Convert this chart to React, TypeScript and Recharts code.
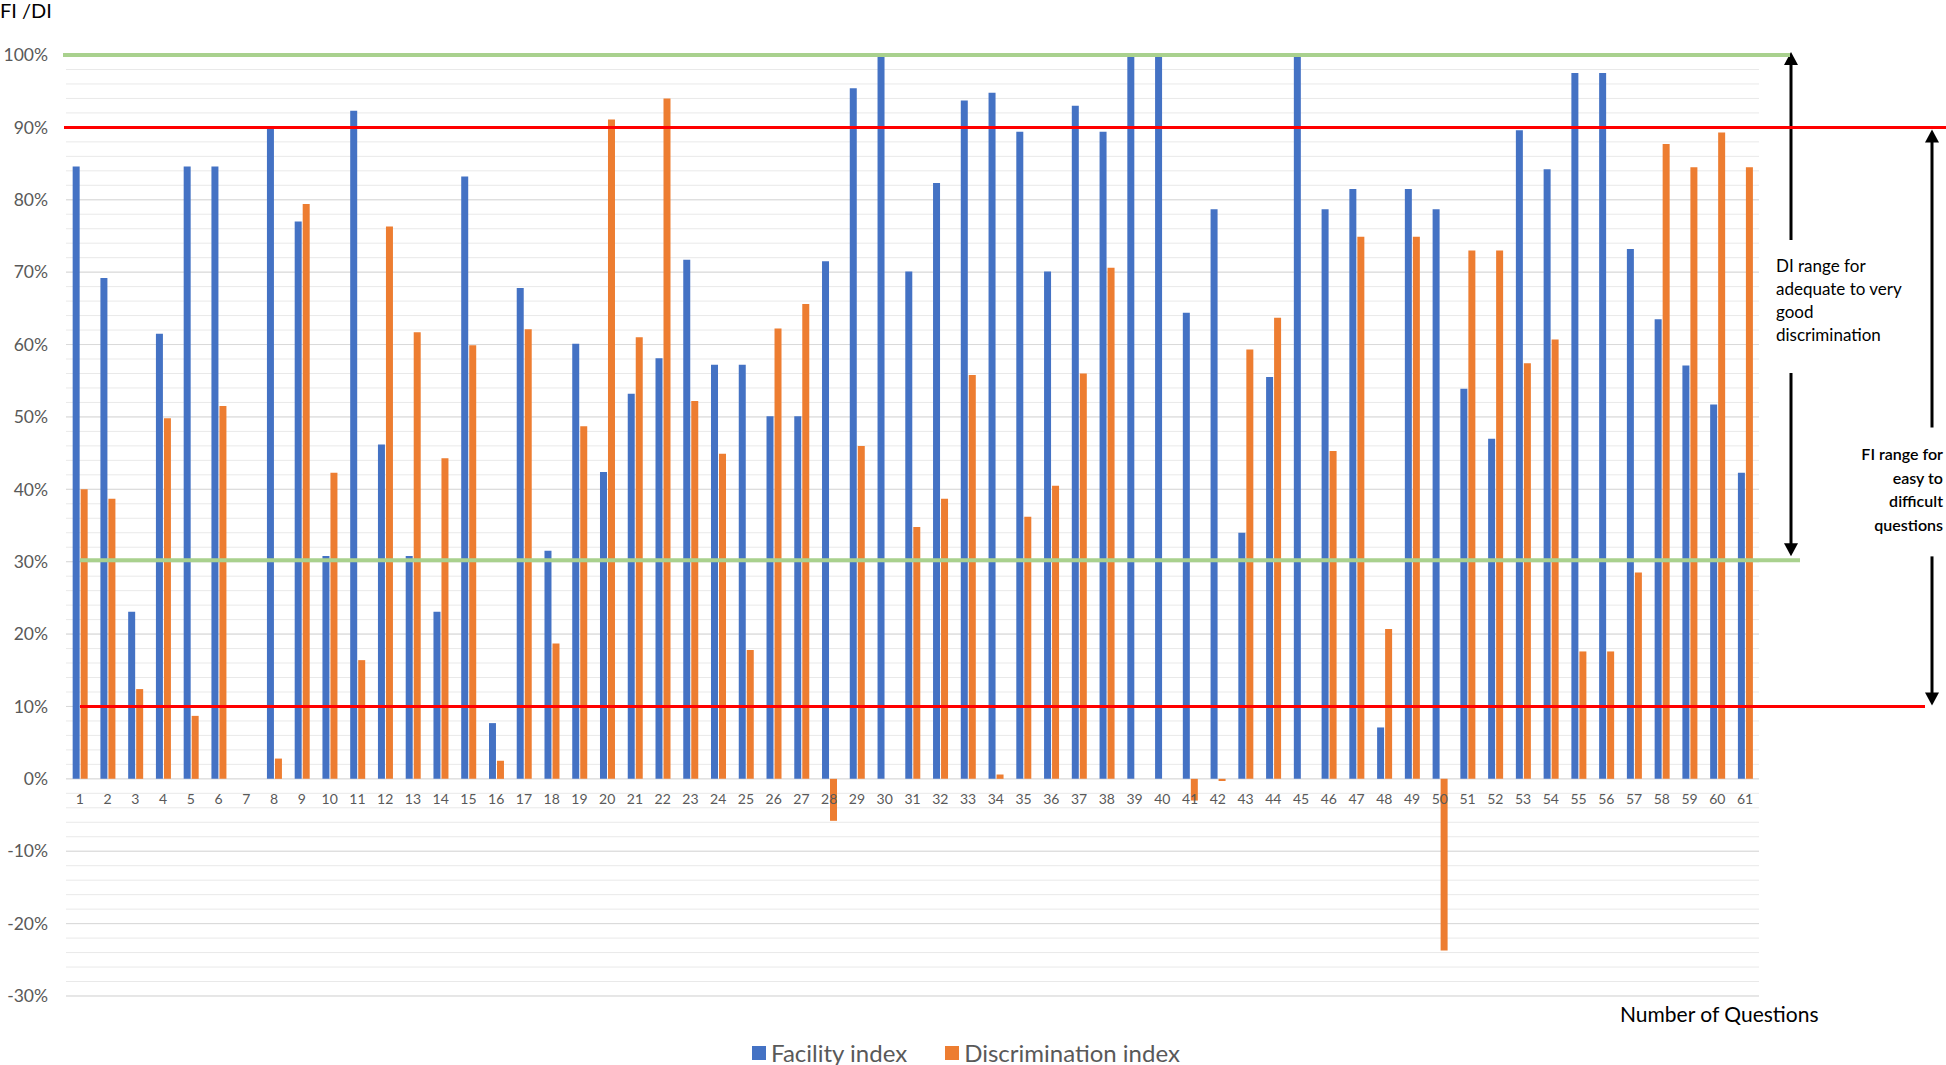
import React from "react";
import {
  ComposedChart,
  Bar,
  Line,
  XAxis,
  YAxis,
  CartesianGrid,
  ReferenceLine,
  ReferenceArea,
  Legend,
  LabelList,
} from "recharts";

const questions = [
  "1", "2", "3", "4", "5", "6", "7", "8", "9", "10",
  "11", "12", "13", "14", "15", "16", "17", "18", "19", "20",
  "21", "22", "23", "24", "25", "26", "27", "28", "29", "30",
  "31", "32", "33", "34", "35", "36", "37", "38", "39", "40",
  "41", "42", "43", "44", "45", "46", "47", "48", "49", "50",
  "51", "52", "53", "54", "55", "56", "57", "58", "59", "60", "61",
];

// percent values
const facilityIndex = [
  84.6, 69.2, 23.1, 61.5, 84.6, 84.6, 0, 89.8, 77.0, 30.8,
  92.3, 46.2, 30.8, 23.1, 83.2, 7.7, 67.8, 31.5, 60.1, 42.4,
  53.2, 58.1, 71.7, 57.2, 57.2, 50.1, 50.1, 71.5, 95.4, 100,
  70.1, 82.3, 93.7, 94.8, 89.4, 70.1, 93.0, 89.4, 100, 100,
  64.4, 78.7, 34.0, 55.5, 100, 78.7, 81.5, 7.1, 81.5, 78.7,
  53.9, 47.0, 89.6, 84.2, 97.5, 97.5, 73.2, 63.5, 57.1, 51.7, 42.3,
];

const discriminationIndex = [
  40.0, 38.7, 12.4, 49.8, 8.7, 51.5, 0, 2.8, 79.4, 42.3,
  16.4, 76.3, 61.7, 44.3, 59.9, 2.5, 62.1, 18.7, 48.7, 91.1,
  61.0, 94.0, 52.2, 44.9, 17.8, 62.2, 65.6, -5.8, 46.0, 0,
  34.8, 38.7, 55.8, 0.6, 36.2, 40.5, 56.0, 70.6, 0, 0,
  -3.0, -0.3, 59.3, 63.7, 0, 45.3, 74.9, 20.7, 74.9, -23.7,
  73.0, 73.0, 57.4, 60.7, 17.6, 17.6, 28.5, 87.7, 84.5, 89.3, 84.5,
];

const Y_MIN = -30;
const Y_MAX = 100;
const majorTicks = [-30, -20, -10, 0, 10, 20, 30, 40, 50, 60, 70, 80, 90, 100];
const minorTicks = Array.from({ length: 66 }, (_, i) => -30 + i * 2);

const legendOrder = ["Facility index", "Discrimination index"];
const diLines = ["DI range for", "adequate to very", "good", "discrimination"];
const fiLines = ["FI range for", "easy to", "difficult", "questions"];

const data = questions.map((q, i) => ({
  q,
  fi: facilityIndex[i],
  di: discriminationIndex[i],
  base: 0,
}));

const FONT = "Lato, 'Open Sans', sans-serif";
const W = 1946;
const H = 1065;
const BLUE = "#4472C4";
const ORANGE = "#ED7D31";
const GREEN = "#A9D18E";
const RED = "#FF0000";

// horizontal threshold line that runs past the plot area
const hLine = (color: string, width: number, startDx: number, endDx: number) =>
  (p: any) => (
    <line
      x1={p.x1 + startDx}
      x2={p.x2 + endDx}
      y1={p.y1}
      y2={p.y2}
      stroke={color}
      strokeWidth={width}
    />
  );

const upHead = (x: number, tip: number) => (
  <polygon points={`${x},${tip} ${x - 7},${tip + 13} ${x + 7},${tip + 13}`} fill="#000" />
);
const downHead = (x: number, tip: number) => (
  <polygon points={`${x},${tip} ${x - 7},${tip - 13} ${x + 7},${tip - 13}`} fill="#000" />
);

const DiArrow = (p: any) => {
  const ax = p.x + p.width + 32;
  const top = p.y;
  const bottom = p.y + p.height;
  return (
    <g>
      {upHead(ax, top - 3)}
      <line x1={ax} x2={ax} y1={top + 8} y2={top + 185} stroke="#000" strokeWidth={3} />
      {diLines.map((t, i) => (
        <text key={t} x={ax - 15} y={top + 217 + i * 23} fontFamily={FONT} fontSize={17} fill="#000">
          {t}
        </text>
      ))}
      <line x1={ax} x2={ax} y1={top + 318} y2={bottom - 14} stroke="#000" strokeWidth={3} />
      {downHead(ax, bottom - 4)}
    </g>
  );
};

const FiArrow = (p: any) => {
  const ax = p.x + p.width + 173;
  const top = p.y;
  const bottom = p.y + p.height;
  return (
    <g>
      {upHead(ax, top + 2)}
      <line x1={ax} x2={ax} y1={top + 12} y2={top + 300} stroke="#000" strokeWidth={3} />
      {fiLines.map((t, i) => (
        <text
          key={t}
          x={ax + 11}
          y={top + 333 + i * 23.5}
          textAnchor="end"
          fontFamily={FONT}
          fontSize={16}
          fontWeight={600}
          fill="#000"
        >
          {t}
        </text>
      ))}
      <line x1={ax} x2={ax} y1={top + 429} y2={bottom - 12} stroke="#000" strokeWidth={3} />
      {downHead(ax, bottom - 1)}
    </g>
  );
};

const renderLegend = (props: any) => {
  const items = (props.payload || [])
    .filter((e: any) => legendOrder.includes(e.value))
    .sort((a: any, b: any) => legendOrder.indexOf(a.value) - legendOrder.indexOf(b.value));
  return (
    <div
      style={{
        display: "flex",
        justifyContent: "center",
        gap: 38,
        fontFamily: FONT,
        fontSize: 24,
        color: "#595959",
        lineHeight: "30px",
        paddingRight: 14,
      }}
    >
      {items.map((e: any) => (
        <span key={e.value} style={{ display: "inline-flex", alignItems: "center" }}>
          <span
            style={{
              display: "inline-block",
              width: 14,
              height: 14,
              background: e.color,
              marginRight: 5,
            }}
          />
          {e.value}
        </span>
      ))}
    </div>
  );
};

// minor gridlines every 2%
const minorGrid = (props: any) => {
  const sc = props?.yAxis?.scale;
  if (typeof sc === "function") return minorTicks.map((t) => sc(t));
  const { top, height } = props.offset;
  return minorTicks.map((t) => top + (height * (Y_MAX - t)) / (Y_MAX - Y_MIN));
};

export default function App() {
  return (
    <div style={{ position: "relative", width: W, height: H, background: "#fff" }}>
      <style>{"body{margin:0}"}</style>
      <div
        style={{
          position: "absolute",
          left: 0,
          top: 0,
          fontFamily: FONT,
          fontSize: 20,
          lineHeight: "20px",
          color: "#000",
        }}
      >
        FI /DI
      </div>
      <div
        style={{
          position: "absolute",
          left: 1620,
          top: 1003,
          fontFamily: FONT,
          fontSize: 21,
          lineHeight: "22px",
          color: "#000",
        }}
      >
        Number of Questions
      </div>
      <ComposedChart
        width={W}
        height={H}
        data={data}
        margin={{ top: 55, right: 187, left: 16, bottom: 39 }}
        barCategoryGap="24%"
        barGap={1}
      >
        <XAxis dataKey="q" hide />
        <YAxis
          yAxisId="main"
          domain={[Y_MIN, Y_MAX]}
          ticks={majorTicks}
          width={50}
          axisLine={false}
          tickLine={false}
          tickSize={6}
          tickMargin={12}
          tickFormatter={(v) => `${v}%`}
          tick={{ fill: "#595959", fontSize: 17.5, fontFamily: FONT }}
        />
        <CartesianGrid
          yAxisId="main"
          vertical={false}
          stroke="#e9e9e9"
          horizontalCoordinatesGenerator={minorGrid}
        />
        <CartesianGrid yAxisId="main" vertical={false} stroke="#d9d9d9" />
        <Legend
          height={30}
          content={renderLegend}
          wrapperStyle={{ left: 0, width: W, top: 1038 }}
        />
        <Bar
          yAxisId="main"
          dataKey="fi"
          name="Facility index"
          fill={BLUE}
          legendType="square"
          isAnimationActive={false}
        />
        <Bar
          yAxisId="main"
          dataKey="di"
          name="Discrimination index"
          fill={ORANGE}
          legendType="square"
          isAnimationActive={false}
        />
        <Line
          yAxisId="main"
          dataKey="base"
          stroke="none"
          dot={false}
          activeDot={false}
          legendType="none"
          isAnimationActive={false}
        >
          <LabelList
            dataKey="q"
            position="bottom"
            offset={15}
            fill="#595959"
            fontSize={14}
            fontFamily={FONT}
          />
        </Line>
        <ReferenceLine yAxisId="main" y={100} shape={hLine(GREEN, 4, -3, 31)} />
        <ReferenceLine yAxisId="main" y={90} shape={hLine(RED, 3, -2, 190)} />
        <ReferenceLine yAxisId="main" y={30.2} shape={hLine(GREEN, 4, 14, 41)} />
        <ReferenceLine yAxisId="main" y={10} shape={hLine(RED, 3, 14, 166)} />
        <ReferenceArea yAxisId="main" y1={30.2} y2={100} shape={DiArrow} />
        <ReferenceArea yAxisId="main" y1={10} y2={90} shape={FiArrow} />
      </ComposedChart>
    </div>
  );
}
